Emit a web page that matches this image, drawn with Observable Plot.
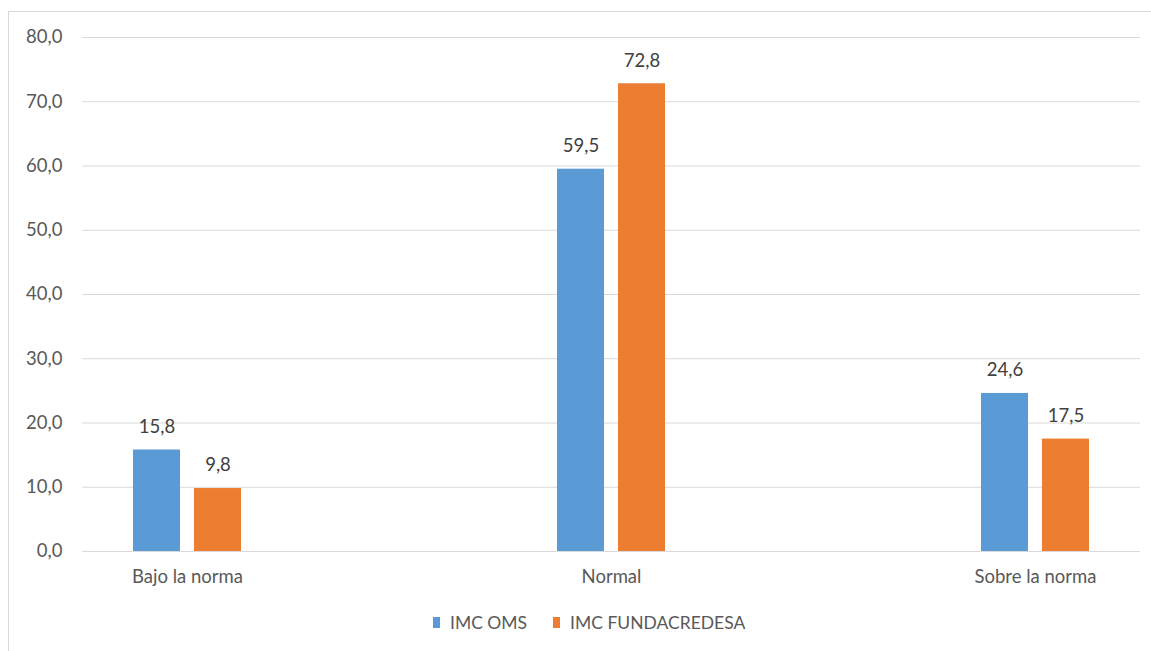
<!DOCTYPE html>
<html>
<head>
<meta charset="utf-8">
<script src="https://cdn.jsdelivr.net/npm/d3@7"></script>
<script src="https://cdn.jsdelivr.net/npm/@observablehq/plot@0.6"></script>
<style>
  html, body { margin: 0; padding: 0; background: #fff; }
  body { width: 1151px; height: 651px; overflow: hidden; position: relative; font-family: "Lato", "Liberation Sans", sans-serif; }
  #frame { position: absolute; left: 8px; top: 11px; width: 1200px; height: 700px; border-left: 1px solid #d9d9d9; border-top: 1px solid #d9d9d9; }
  #chart { position: absolute; left: 0; top: 0; }
  #legend { position: absolute; left: 433px; top: 612px; display: flex; align-items: center; font-size: 17.5px; color: #595959; }
  .item { display: flex; align-items: center; margin-right: 26px; }
  .sw { width: 7px; height: 11px; margin-right: 10px; }
</style>
</head>
<body>
<div id="frame"></div>
<div id="chart"></div>
<div id="legend"></div>
<script>
const categories = ["Bajo la norma", "Normal", "Sobre la norma"];
const series = ["IMC OMS", "IMC FUNDACREDESA"];
const omsValues = [15.8, 59.5, 24.6];
const fundacredesaValues = [9.8, 72.8, 17.5];
const colors = ["#5b9bd5", "#ed7d31"];
const yTicks = [0, 10, 20, 30, 40, 50, 60, 70, 80];

const fmt = d => d.toFixed(1).replace(".", ",");
const oms = categories.map((c, i) => ({category: c, series: series[0], value: omsValues[i]}));
const fun = categories.map((c, i) => ({category: c, series: series[1], value: fundacredesaValues[i]}));

const FS = 18.5;
const chart = Plot.plot({
  width: 1151,
  height: 600,
  marginTop: 37,
  marginBottom: 49,
  marginLeft: 82,
  marginRight: 11,
  style: {fontFamily: "Lato, 'Liberation Sans', sans-serif", fontSize: FS + "px", color: "#595959", background: "transparent"},
  x: {domain: categories, paddingInner: 0.745, paddingOuter: 0.12, label: null},
  y: {domain: [0, 80], label: null},
  color: {domain: series, range: colors},
  marks: [
    Plot.ruleY(yTicks, {stroke: "#d9d9d9", strokeWidth: 1}),
    Plot.axisY({ticks: yTicks, tickSize: 0, tickPadding: 20, tickFormat: fmt, label: null, fill: "#595959", fontSize: FS}),
    Plot.axisX({tickSize: 0, tickPadding: 18, label: null, fill: "#595959", fontSize: FS}),
    Plot.barY(oms, {x: "category", y: "value", fill: d => d.series, insetRight: 61}),
    Plot.barY(fun, {x: "category", y: "value", fill: d => d.series, insetLeft: 61}),
    Plot.text(oms, {x: "category", y: "value", text: d => fmt(d.value), dx: -30.5, dy: -23, fill: "#404040", fontSize: FS}),
    Plot.text(fun, {x: "category", y: "value", text: d => fmt(d.value), dx: 30.5, dy: -23, fill: "#404040", fontSize: FS})
  ]
});
document.getElementById("chart").appendChild(chart);

const legend = document.getElementById("legend");
series.forEach((s, i) => {
  const item = document.createElement("div");
  item.className = "item";
  const sw = document.createElement("div");
  sw.className = "sw";
  sw.style.background = colors[i];
  const label = document.createElement("span");
  label.textContent = s;
  item.appendChild(sw);
  item.appendChild(label);
  legend.appendChild(item);
});
</script>
</body>
</html>
